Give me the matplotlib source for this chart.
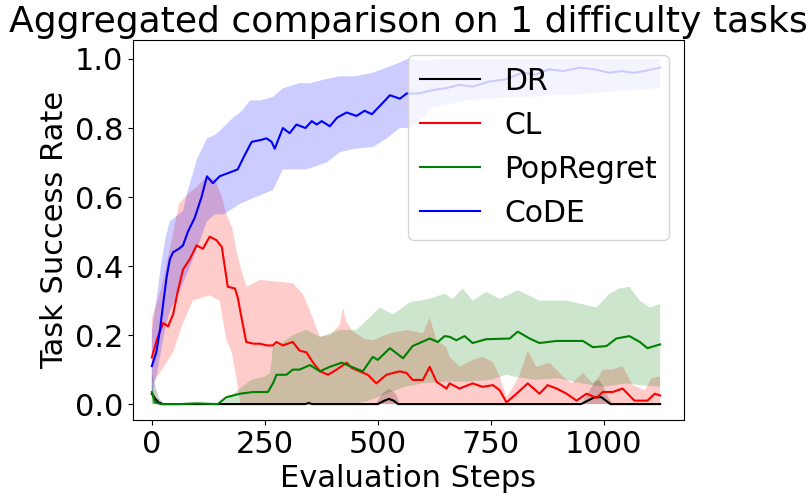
import numpy as np
import matplotlib
matplotlib.use('Agg')
import matplotlib.pyplot as plt

# (step, value) pairs
dr_mean = [(0, 0.03), (8, 0.015), (15, 0.005), (25, 0.0), (340, 0.0), (347, 0.003), (355, 0.0),
           (500, 0.0), (515, 0.01), (525, 0.015), (535, 0.01), (545, 0.0), (950, 0.0), (965, 0.01),
           (980, 0.02), (995, 0.02), (1005, 0.01), (1015, 0.0), (1125, 0.0)]
dr_upper = [(0, 0.09), (8, 0.05), (15, 0.02), (25, 0.0), (340, 0.0), (347, 0.008), (355, 0.0),
            (495, 0.0), (510, 0.03), (525, 0.045), (540, 0.03), (550, 0.0), (950, 0.0), (965, 0.03),
            (980, 0.065), (990, 0.07), (1000, 0.05), (1010, 0.02), (1020, 0.0), (1125, 0.0)]
dr_lower = [(0, 0.0), (1125, 0.0)]

cl_mean = [(0, 0.135), (12, 0.19), (25, 0.235), (36, 0.225), (47, 0.26), (58, 0.33), (69, 0.39),
           (84, 0.42), (99, 0.46), (113, 0.45), (128, 0.485), (143, 0.475), (155, 0.455), (168, 0.34),
           (184, 0.335), (190, 0.31), (200, 0.24), (209, 0.18), (225, 0.175), (239, 0.175), (255, 0.17),
           (268, 0.17), (276, 0.18), (290, 0.17), (312, 0.18), (327, 0.155), (342, 0.15), (357, 0.12),
           (372, 0.095), (390, 0.085), (409, 0.10), (431, 0.12), (442, 0.105), (460, 0.095), (478, 0.085),
           (497, 0.06), (519, 0.085), (549, 0.095), (564, 0.09), (577, 0.07), (600, 0.07), (615, 0.108),
           (630, 0.065), (652, 0.045), (659, 0.06), (681, 0.045), (710, 0.06), (732, 0.05), (755, 0.055),
           (770, 0.04), (785, 0.005), (807, 0.03), (832, 0.06), (858, 0.03), (876, 0.055), (896, 0.045),
           (918, 0.03), (940, 0.01), (962, 0.03), (984, 0.018), (998, 0.035), (1020, 0.035), (1042, 0.045),
           (1068, 0.01), (1097, 0.01), (1113, 0.03), (1125, 0.025)]
cl_upper = [(0, 0.25), (20, 0.33), (40, 0.45), (60, 0.58), (80, 0.61), (100, 0.63), (122, 0.66),
            (140, 0.65), (155, 0.60), (165, 0.55), (178, 0.51), (188, 0.44), (200, 0.38), (210, 0.34),
            (239, 0.36), (276, 0.355), (312, 0.35), (334, 0.32), (350, 0.27), (372, 0.195), (395, 0.20),
            (416, 0.23), (423, 0.28), (430, 0.24), (445, 0.21), (470, 0.19), (489, 0.185), (527, 0.205),
            (564, 0.215), (600, 0.205), (615, 0.25), (630, 0.185), (652, 0.165), (659, 0.137), (681, 0.108),
            (710, 0.128), (732, 0.137), (755, 0.122), (770, 0.08), (785, 0.02), (800, 0.05), (814, 0.085),
            (832, 0.155), (851, 0.108), (880, 0.12), (910, 0.08), (929, 0.06), (954, 0.09), (976, 0.06),
            (984, 0.07), (998, 0.10), (1020, 0.10), (1042, 0.11), (1064, 0.055), (1091, 0.04), (1106, 0.075),
            (1125, 0.08)]
cl_lower = [(0, 0.06), (18, 0.09), (47, 0.15), (69, 0.235), (91, 0.30), (128, 0.315), (150, 0.30),
            (165, 0.185), (177, 0.15), (188, 0.07), (196, 0.0), (1125, 0.0)]

pop_mean = [(0, 0.035), (7, 0.005), (20, 0.0), (60, 0.0), (100, 0.002), (146, 0.0), (165, 0.02),
            (195, 0.03), (224, 0.035), (257, 0.035), (268, 0.06), (276, 0.085), (298, 0.085), (312, 0.10),
            (327, 0.10), (350, 0.113), (372, 0.095), (394, 0.108), (420, 0.12), (442, 0.108), (467, 0.095),
            (489, 0.137), (500, 0.128), (527, 0.162), (556, 0.133), (577, 0.168), (615, 0.19), (633, 0.18),
            (648, 0.197), (659, 0.195), (674, 0.185), (692, 0.197), (710, 0.177), (740, 0.188), (792, 0.19),
            (810, 0.21), (836, 0.19), (858, 0.177), (896, 0.183), (954, 0.183), (976, 0.165), (1006, 0.168),
            (1028, 0.19), (1057, 0.197), (1080, 0.18), (1097, 0.162), (1125, 0.173)]
pop_upper = [(0, 0.06), (10, 0.01), (20, 0.0), (100, 0.005), (150, 0.0), (170, 0.02), (190, 0.04),
             (220, 0.07), (250, 0.08), (262, 0.09), (268, 0.165), (290, 0.18), (312, 0.20), (342, 0.215),
             (372, 0.195), (416, 0.215), (453, 0.215), (489, 0.26), (504, 0.28), (534, 0.26), (571, 0.295),
             (615, 0.305), (648, 0.32), (666, 0.305), (688, 0.335), (710, 0.30), (740, 0.325), (770, 0.305),
             (810, 0.33), (858, 0.30), (918, 0.30), (984, 0.28), (1013, 0.32), (1035, 0.335), (1057, 0.34),
             (1080, 0.30), (1102, 0.28), (1125, 0.29)]
pop_lower = [(0, 0.0), (450, 0.0), (480, 0.01), (520, 0.03), (560, 0.05), (600, 0.06), (650, 0.065),
             (700, 0.065), (750, 0.07), (785, 0.085), (800, 0.08), (850, 0.07), (900, 0.075), (950, 0.06),
             (1000, 0.05), (1050, 0.06), (1080, 0.055), (1125, 0.05)]

code_mean = [(0, 0.11), (10, 0.15), (18, 0.215), (26, 0.30), (33, 0.37), (40, 0.42), (47, 0.44),
             (60, 0.45), (69, 0.46), (80, 0.50), (95, 0.54), (110, 0.60), (122, 0.66), (135, 0.64),
             (150, 0.66), (170, 0.67), (190, 0.68), (205, 0.72), (221, 0.76), (240, 0.765), (254, 0.77),
             (265, 0.76), (272, 0.74), (290, 0.80), (305, 0.785), (320, 0.81), (340, 0.80), (354, 0.82),
             (365, 0.81), (376, 0.82), (394, 0.805), (410, 0.83), (431, 0.845), (453, 0.835), (471, 0.85),
             (487, 0.84), (509, 0.87), (527, 0.895), (549, 0.885), (564, 0.90), (590, 0.90), (622, 0.91),
             (650, 0.915), (681, 0.925), (710, 0.92), (748, 0.935), (780, 0.94), (821, 0.96), (850, 0.955),
             (880, 0.97), (910, 0.965), (947, 0.975), (980, 0.97), (1013, 0.96), (1040, 0.965),
             (1064, 0.96), (1090, 0.965), (1125, 0.975)]
code_upper = [(0, 0.21), (10, 0.30), (20, 0.40), (30, 0.48), (40, 0.53), (60, 0.55), (69, 0.56),
              (80, 0.62), (100, 0.71), (122, 0.77), (140, 0.78), (157, 0.80), (180, 0.83), (200, 0.85),
              (217, 0.88), (240, 0.88), (268, 0.89), (290, 0.915), (327, 0.93), (350, 0.93), (380, 0.94),
              (416, 0.95), (450, 0.95), (489, 0.96), (520, 0.975), (549, 0.99), (566, 1.0), (600, 0.995),
              (650, 1.0), (1125, 1.0)]
code_lower = [(0, 0.03), (10, 0.08), (20, 0.15), (30, 0.22), (40, 0.27), (55, 0.31), (69, 0.35),
              (85, 0.40), (100, 0.45), (122, 0.53), (140, 0.55), (160, 0.55), (195, 0.58), (230, 0.60),
              (268, 0.62), (290, 0.68), (342, 0.68), (387, 0.70), (416, 0.73), (450, 0.74), (490, 0.745),
              (520, 0.77), (549, 0.80), (571, 0.80), (600, 0.83), (622, 0.86), (660, 0.87), (697, 0.88),
              (750, 0.885), (800, 0.89), (843, 0.89), (880, 0.895), (918, 0.895), (960, 0.90),
              (1010, 0.905), (1064, 0.91), (1125, 0.915)]

series = [
    ('DR', 'black', dr_mean, dr_upper, dr_lower),
    ('CL', 'red', cl_mean, cl_upper, cl_lower),
    ('PopRegret', 'green', pop_mean, pop_upper, pop_lower),
    ('CoDE', 'blue', code_mean, code_upper, code_lower),
]

plt.rcParams['font.size'] = 22

fig, ax = plt.subplots(figsize=(8.1, 4.97), dpi=100)
fig.subplots_adjust(left=0.164, right=0.844, top=0.9195, bottom=0.155)

for label, color, mean, upper, lower in series:
    mx, my = np.array(mean).T
    ux, uy = np.array(upper).T
    lx, ly = np.array(lower).T
    ax.plot(mx, my, color=color, label=label, linewidth=1.5)
    ax.fill(np.concatenate([ux, lx[::-1]]), np.concatenate([uy, ly[::-1]]),
            color=color, alpha=0.2, linewidth=0)

ax.set_xlim(-42, 1177)
ax.set_ylim(-0.046, 1.055)
ax.set_xticks([0, 250, 500, 750, 1000])
ax.set_title('Aggregated comparison on 1 difficulty tasks', fontsize=26)
ax.set_xlabel('Evaluation Steps')
ax.set_ylabel('Task Success Rate')
ax.legend(loc='upper right', fontsize=21.5)

fig.savefig('out.png', dpi=100)
